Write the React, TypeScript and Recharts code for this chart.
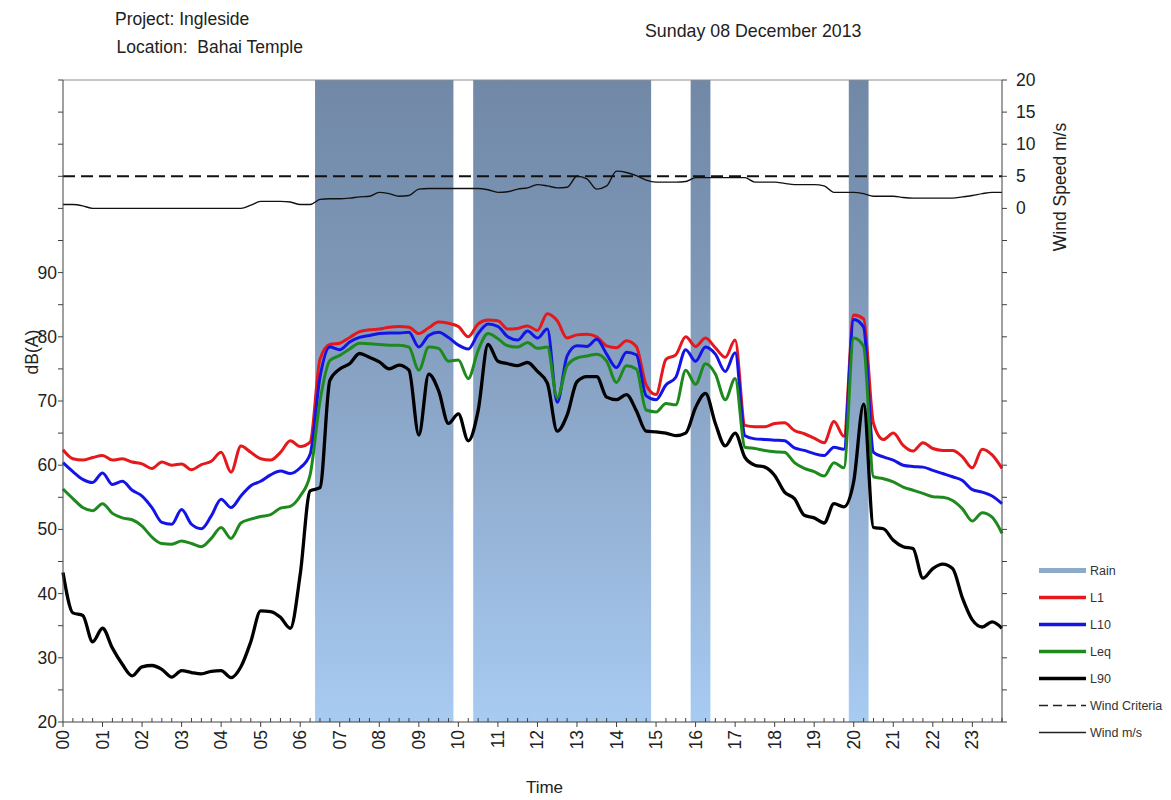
import React from 'react';
import { ComposedChart, Line, Area, XAxis, YAxis, ReferenceLine } from 'recharts';

// 15-minute sampling grid (hours)
const TIMES: number[] = Array.from({ length: 96 }, (_, i) => i * 0.25);
const HOUR_LABELS = ['00','01','02','03','04','05','06','07','08','09','10','11','12','13','14','15','16','17','18','19','20','21','22','23'];

const RAIN = [
  0,0,0,0, 0,0,0,0, 0,0,0,0, 0,0,0,0, 0,0,0,0, 0,0,0,0,
  0,0,1,1, 1,1,1,1, 1,1,1,1, 1,1,1,1, 0,0,1,1, 1,1,1,1,
  1,1,1,1, 1,1,1,1, 1,1,1,1, 0,0,0,0, 1,1,0,0, 0,0,0,0,
  0,0,0,0, 0,0,0,0, 1,1,0,0, 0,0,0,0, 0,0,0,0, 0,0,0,0,
];

const L1 = [
  62.4,61.0,60.8,61.2, 61.5,60.8,61.0,60.5, 60.2,59.5,60.5,60.0, 60.2,59.3,60.1,60.6,
  62.0,58.9,63.0,62.0, 61.0,60.8,62.0,63.8, 62.9,63.6,76.5,78.8, 79.0,79.9,80.8,81.1,
  81.2,81.5,81.6,81.5, 80.5,81.4,82.3,82.1, 81.6,80.0,82.0,82.6, 82.5,81.2,81.3,81.7,
  81.0,83.6,82.5,79.8, 80.3,80.4,80.0,78.6, 78.3,79.4,78.5,72.5, 71.0,76.5,77.2,80.0,
  78.5,79.8,78.3,76.8, 79.5,66.2,66.0,66.0, 66.5,66.6,65.4,64.9, 64.2,63.5,66.8,64.5,
  83.4,82.8,66.5,64.0, 65.0,63.1,62.2,63.5, 62.6,62.3,62.3,61.3, 59.6,62.5,61.6,59.5,
];

const L10 = [
  60.4,59.0,57.8,57.3, 58.8,57.0,57.5,56.1, 55.2,53.4,51.1,50.8, 53.1,50.8,50.1,52.1,
  54.7,53.4,55.2,56.8, 57.5,58.5,59.1,58.7, 59.6,61.7,73.7,78.4, 78.0,79.2,79.9,80.2,
  80.5,80.6,80.6,80.7, 78.4,80.2,80.7,79.9, 78.7,78.1,80.5,82.0, 81.6,80.0,79.5,80.9,
  79.8,81.2,69.8,77.0, 78.6,78.5,79.6,77.3, 75.2,77.6,77.2,70.8, 70.2,72.5,73.7,78.0,
  76.2,78.4,77.3,74.6, 77.5,64.6,64.1,64.0, 63.9,63.8,62.7,62.3, 61.8,61.5,62.8,62.5,
  82.7,81.5,62.0,61.3, 60.8,60.0,59.8,59.7, 59.2,58.7,58.2,57.6, 56.2,55.8,55.2,54.0,
];

const LEQ = [
  56.3,54.8,53.4,52.9, 54.0,52.5,51.8,51.5, 50.5,48.8,47.8,47.7, 48.2,47.8,47.3,48.6,
  50.3,48.6,51.0,51.6, 52.0,52.3,53.3,53.6, 55.2,58.5,70.0,76.3, 77.1,78.1,79.0,78.9,
  78.8,78.7,78.7,78.4, 74.8,78.4,78.2,76.2, 76.4,73.5,77.9,80.5, 79.7,78.6,78.4,79.1,
  78.2,78.4,70.5,75.5, 76.7,77.0,77.3,76.2, 72.9,75.5,75.0,68.6, 68.3,69.6,69.4,74.8,
  72.6,75.8,74.2,70.2, 73.5,62.8,62.6,62.3, 62.1,62.0,60.4,59.5, 59.0,58.3,60.4,59.6,
  79.8,78.5,58.2,57.9, 57.4,56.6,56.1,55.6, 55.1,55.0,54.5,53.2, 51.3,52.6,51.9,49.4,
];

const L90 = [
  43.3,37.0,36.6,32.5, 34.6,31.5,29.0,27.2, 28.6,28.8,28.2,27.0, 28.0,27.7,27.5,27.9,
  28.0,26.9,28.6,32.5, 37.3,37.2,36.3,34.6, 43.0,56.0,56.5,73.2, 75.0,75.8,77.4,76.8,
  76.1,75.0,75.6,74.8, 64.7,74.2,71.6,66.5, 68.0,63.8,68.5,78.8, 76.2,75.8,75.5,76.0,
  74.6,72.8,65.3,67.8, 73.0,73.8,73.8,70.6, 70.2,71.0,68.5,65.3, 65.2,65.0,64.6,65.0,
  69.0,71.2,66.5,63.0, 65.0,61.2,60.0,59.7, 58.4,55.8,54.8,52.2, 51.8,51.0,54.0,53.5,
  57.5,69.5,50.3,50.1, 48.3,47.3,47.0,42.4, 43.9,44.6,43.9,39.3, 35.9,34.8,35.6,34.6,
];

const WIND = [
  0.6,0.6,0.4,0.0, 0.0,0.0,0.0,0.0, 0.0,0.0,0.0,0.0, 0.0,0.0,0.0,0.0,
  0.0,0.0,0.0,0.5, 1.1,1.1,1.1,1.0, 0.6,0.6,1.4,1.5, 1.5,1.6,1.8,1.9,
  2.5,2.3,1.9,2.0, 3.0,3.1,3.1,3.1, 3.1,3.1,3.1,2.9, 2.5,2.6,3.0,3.2,
  3.7,3.5,3.2,3.3, 5.0,4.6,3.0,3.5, 5.8,5.6,5.1,4.4, 4.1,4.1,4.1,4.2,
  4.8,4.8,4.8,4.8, 4.8,4.8,4.1,4.1, 4.1,3.9,3.7,3.7, 3.7,3.5,2.5,2.5,
  2.5,2.3,1.9,1.9, 1.9,1.7,1.6,1.6, 1.6,1.6,1.6,1.8, 2.0,2.3,2.5,2.5,
];

const WIND_CRITERIA = 5;

const DB_TICKS = [20,25,30,35,40,45,50,55,60,65,70,75,80,85,90,95,100,105,110,115,120];
const WIND_TICKS = [-80,-75,-70,-65,-60,-55,-50,-45,-40,-35,-30,-25,-20,-15,-10,-5,0,5,10,15,20];

const data = TIMES.map((t, i) => ({
  t,
  rain: RAIN[i],
  l1: L1[i],
  l10: L10[i],
  leq: LEQ[i],
  l90: L90[i],
  wind: WIND[i],
  crit: WIND_CRITERIA,
}));

const FONT = '"Liberation Sans", Arial, sans-serif';
const AXIS = '#404040';
const TXT = '#222';
const RED = '#E5191C';
const BLUE = '#1414E6';
const GREEN = '#1E8A1E';
const BLACK = '#000000';

const XTick = (props: any) => {
  const { x, y, payload } = props;
  const v = payload.value as number;
  const major = Math.abs(v - Math.round(v)) < 1e-6;
  const ty = y + 8;
  return (
    <g>
      <line x1={x} x2={x} y1={y} y2={major ? y + 5 : y - 4} stroke={AXIS} strokeWidth={1} />
      {major && (
        <text
          x={x}
          y={ty}
          transform={`rotate(-90 ${x} ${ty})`}
          textAnchor="end"
          dominantBaseline="central"
          fontFamily={FONT}
          fontSize={17.5}
          fill={TXT}
        >
          {HOUR_LABELS[Math.round(v)]}
        </text>
      )}
    </g>
  );
};

const LeftTick = (props: any) => {
  const { x, y, payload } = props;
  const v = payload.value as number;
  const show = v % 10 === 0 && v <= 90;
  return (
    <g>
      <line x1={x} x2={x - 5} y1={y} y2={y} stroke={AXIS} strokeWidth={1} />
      {show && (
        <text x={x - 6} y={y} textAnchor="end" dominantBaseline="central" fontFamily={FONT} fontSize={17.5} fill={TXT}>
          {v}
        </text>
      )}
    </g>
  );
};

const RightTick = (props: any) => {
  const { x, y, payload } = props;
  const v = payload.value as number;
  const show = v >= 0;
  return (
    <g>
      <line x1={x} x2={x + 5} y1={y} y2={y} stroke={AXIS} strokeWidth={1} />
      {show && (
        <text x={x + 14} y={y} textAnchor="start" dominantBaseline="central" fontFamily={FONT} fontSize={17.5} fill={TXT}>
          {v}
        </text>
      )}
    </g>
  );
};

const LEGEND_ITEMS = [
  { label: 'Rain', color: '#8DA9CC', width: 5, dash: '' },
  { label: 'L1', color: RED, width: 3.5, dash: '' },
  { label: 'L10', color: BLUE, width: 3.5, dash: '' },
  { label: 'Leq', color: GREEN, width: 3.5, dash: '' },
  { label: 'L90', color: BLACK, width: 3.5, dash: '' },
  { label: 'Wind Criteria', color: '#222', width: 1.5, dash: '9 5' },
  { label: 'Wind m/s', color: '#222', width: 1.5, dash: '' },
];

const W = 1163;
const H = 792;

export default function App() {
  return (
    <div style={{ position: 'relative', width: W, height: H, fontFamily: FONT }}>
      <ComposedChart width={W} height={H} data={data} margin={{ top: 72, right: 109, bottom: 18, left: 5 }}>
        <defs>
          <linearGradient id="rainGrad" x1="0" y1="0" x2="0" y2="1">
            <stop offset="0%" stopColor="#7188A7" />
            <stop offset="30%" stopColor="#7E97B6" />
            <stop offset="65%" stopColor="#93B0D3" />
            <stop offset="100%" stopColor="#A8CBF2" />
          </linearGradient>
        </defs>
        <XAxis
          dataKey="t"
          type="number"
          domain={[0, 23.75]}
          ticks={TIMES}
          interval={0}
          tickSize={0}
          tickMargin={0}
          tick={<XTick />}
          height={60}
          axisLine={{ stroke: AXIS }}
          tickLine={false}
        />
        <YAxis
          yAxisId="left"
          orientation="left"
          domain={[20, 120]}
          ticks={DB_TICKS}
          interval={0}
          tickSize={0}
          tickMargin={0}
          tick={<LeftTick />}
          width={50}
          axisLine={{ stroke: AXIS }}
          tickLine={false}
          allowDataOverflow
        />
        <YAxis
          yAxisId="right"
          orientation="right"
          domain={[-80, 20]}
          ticks={WIND_TICKS}
          interval={0}
          tickSize={0}
          tickMargin={0}
          tick={<RightTick />}
          width={60}
          axisLine={{ stroke: AXIS }}
          tickLine={false}
          allowDataOverflow
        />
        <YAxis yAxisId="rain" domain={[0, 1]} hide />
        <Area
          yAxisId="rain"
          dataKey="rain"
          type="step"
          stroke="none"
          fill="url(#rainGrad)"
          fillOpacity={1}
          isAnimationActive={false}
          activeDot={false}
          dot={false}
        />
        <ReferenceLine yAxisId="left" y={120} stroke="#8C8C8C" strokeWidth={1} />
        <Line yAxisId="right" dataKey="crit" type="linear" stroke="#111" strokeWidth={2} strokeDasharray="12 6" dot={false} activeDot={false} isAnimationActive={false} />
        <Line yAxisId="right" dataKey="wind" type="monotone" stroke="#111" strokeWidth={1.4} dot={false} activeDot={false} isAnimationActive={false} />
        <Line yAxisId="left" dataKey="l1" type="monotone" stroke={RED} strokeWidth={3} dot={false} activeDot={false} isAnimationActive={false} />
        <Line yAxisId="left" dataKey="l10" type="monotone" stroke={BLUE} strokeWidth={3} dot={false} activeDot={false} isAnimationActive={false} />
        <Line yAxisId="left" dataKey="leq" type="monotone" stroke={GREEN} strokeWidth={3} dot={false} activeDot={false} isAnimationActive={false} />
        <Line yAxisId="left" dataKey="l90" type="monotone" stroke={BLACK} strokeWidth={3.3} dot={false} activeDot={false} isAnimationActive={false} />
      </ComposedChart>
      <svg width={W} height={H} style={{ position: 'absolute', left: 0, top: 0, pointerEvents: 'none' }}>
        <g fontFamily={FONT} fill={TXT}>
          <text x={107} y={10.5} fontSize={17.5} dominantBaseline="central">Project: Ingleside</text>
          <text x={108.5} y={39.3} fontSize={17.5} dominantBaseline="central" style={{ whiteSpace: 'pre' }}>{'Location:  Bahai Temple'}</text>
          <text x={637} y={23} fontSize={17.8} dominantBaseline="central">Sunday 08 December 2013</text>
          <text x={24} y={344} fontSize={17.5} textAnchor="middle" dominantBaseline="central" transform="rotate(-90 24 344)">dB(A)</text>
          <text x={1052} y={179} fontSize={17.5} textAnchor="middle" dominantBaseline="central" transform="rotate(-90 1052 179)">Wind Speed m/s</text>
          <text x={536.5} y={779} fontSize={17} textAnchor="middle" dominantBaseline="central">Time</text>
        </g>
        <g fontFamily={FONT}>
          {LEGEND_ITEMS.map((it, i) => {
            const cy = 562.5 + i * 27;
            return (
              <g key={it.label}>
                <line x1={1031} x2={1078} y1={cy} y2={cy} stroke={it.color} strokeWidth={it.width} strokeDasharray={it.dash || undefined} />
                <text x={1082} y={cy} fontSize={12.5} fill="#333" dominantBaseline="central">{it.label}</text>
              </g>
            );
          })}
        </g>
      </svg>
    </div>
  );
}
